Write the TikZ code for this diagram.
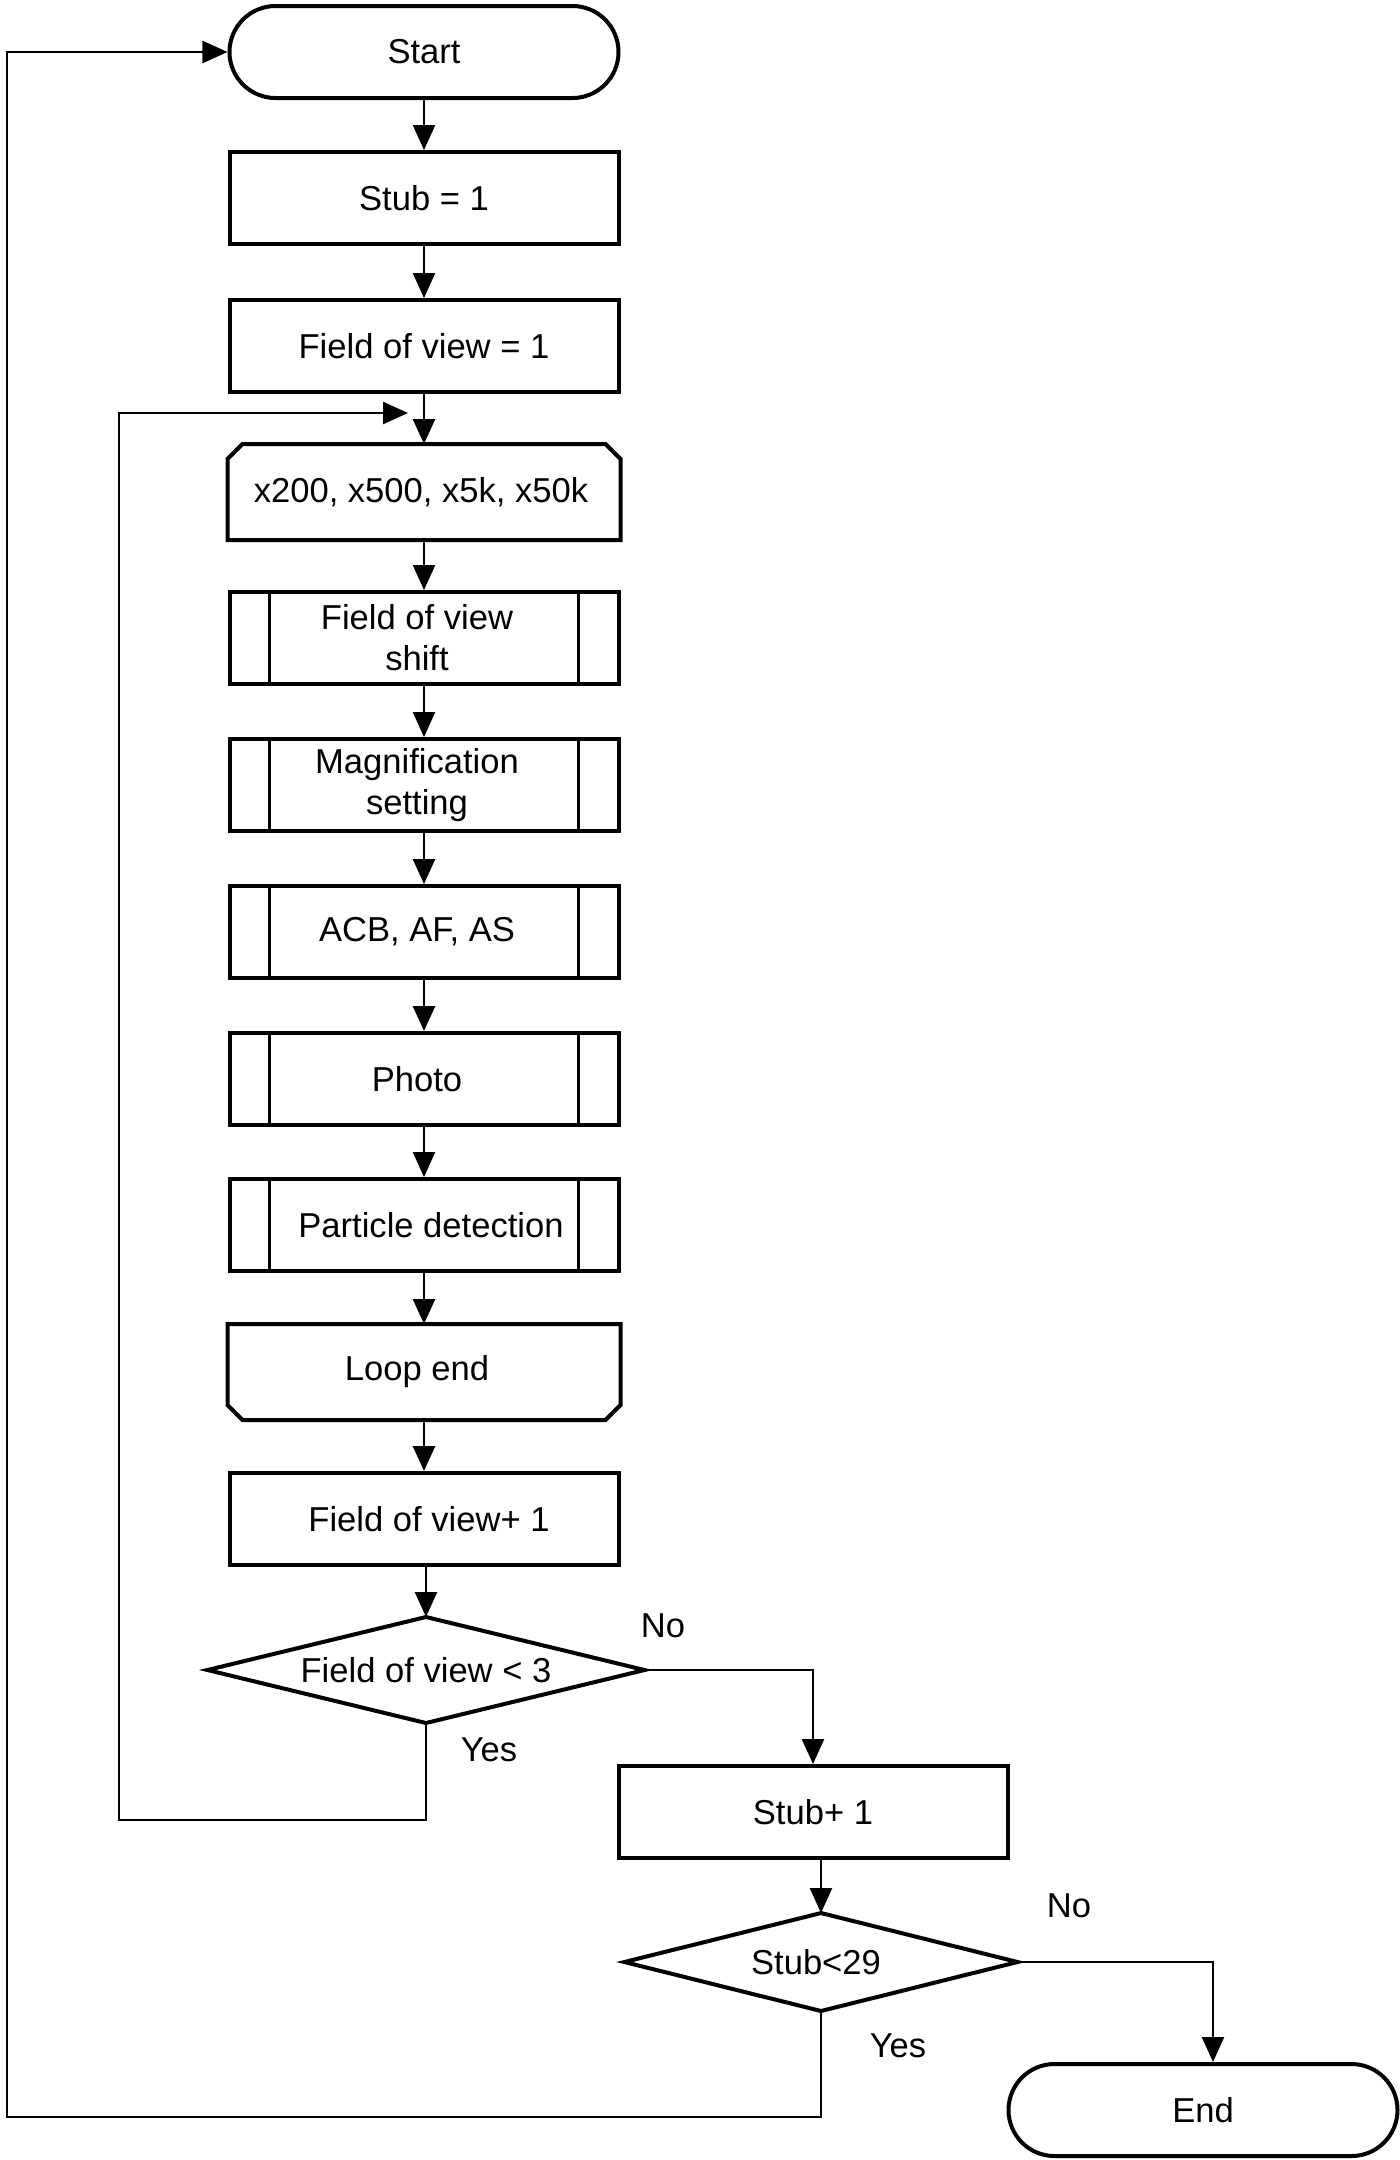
\documentclass[tikz,border=0pt]{standalone}
\usepackage{fontspec}
\setmainfont{Liberation Sans}
\usetikzlibrary{arrows.meta}
\begin{document}
\begin{tikzpicture}[x=1bp,y=-1bp,
  txt/.style={font=\fontsize{34.7}{41}\selectfont},
  box/.style={txt,draw,line width=4bp,minimum width=389bp,minimum height=92bp,inner sep=0pt,align=center},
  term/.style={box,rounded corners=46bp},
  bare/.style={box,draw=none},
  outl/.style={line width=4bp,line join=miter},
  conn/.style={line width=2.5bp,-{Triangle[length=25bp,width=22bp]}},
  lbl/.style={txt,inner sep=0pt}]
\useasboundingbox (0,0) rectangle (1400,2160);
\def\ch{15bp}
% nodes
\node[term] (start) at (424,52) {Start};
\node[box] (stub1) at (424,198) {Stub = 1};
\node[box] (fov1) at (424,346) {Field of view = 1};
\node[bare] (lstart) at (424,492) {x200, x500, x5k, x50k\hspace*{6bp}};
\draw[outl] ([yshift=-\ch]lstart.north west) -- ([xshift=\ch]lstart.north west) -- ([xshift=-\ch]lstart.north east) -- ([yshift=-\ch]lstart.north east) -- (lstart.south east) -- (lstart.south west) -- cycle;
\node[box] (shift) at (424,638) {Field of view\hspace*{14bp}\\shift\hspace*{14bp}};
\node[box] (mag) at (424,785) {Magnification\hspace*{14bp}\\setting\hspace*{14bp}};
\node[box] (acb) at (424,932) {ACB, AF, AS\hspace*{14bp}};
\node[box] (photo) at (424,1079) {Photo\hspace*{14bp}};
\node[box] (part) at (424,1225) {\hspace*{14bp}Particle detection};
\foreach \n in {shift,mag,acb,photo,part}{
  \draw[line width=2.5bp] ([xshift=42bp]\n.north west) -- ([xshift=42bp]\n.south west);
  \draw[line width=2.5bp] ([xshift=-42bp]\n.north east) -- ([xshift=-42bp]\n.south east);
}
\node[bare] (lend) at (424,1372) {Loop end\hspace*{14bp}};
\draw[outl] (lend.north west) -- (lend.north east) -- ([yshift=\ch]lend.south east) -- ([xshift=-\ch]lend.south east) -- ([xshift=\ch]lend.south west) -- ([yshift=\ch]lend.south west) -- cycle;
\node[box] (fovp) at (424,1519) {\hspace*{10bp}Field of view+ 1};
\node[bare,minimum width=433bp,minimum height=102bp] (d1) at (426,1670) {Field of view < 3};
\draw[outl] (d1.north) -- (d1.east) -- (d1.south) -- (d1.west) -- cycle;
\node[box] (stubp) at (813,1812) {Stub+ 1};
\node[bare,minimum width=389bp,minimum height=94bp] (d2) at (821,1962) {Stub<29\hspace*{10bp}};
\draw[outl] (d2.north) -- (d2.east) -- (d2.south) -- (d2.west) -- cycle;
\node[term] (end) at (1203,2110) {End};
% labels
\node[lbl] (no1) at (663,1626) {No};
\node[lbl] (yes1) at (489,1750) {Yes};
\node[lbl] (no2) at (1069,1906) {No};
\node[lbl] (yes2) at (898,2046) {Yes};
% connectors
\draw[conn] (start) -- (stub1);
\draw[conn] (stub1) -- (fov1);
\draw[conn] (fov1) -- (lstart);
\draw[conn] (lstart) -- (shift);
\draw[conn] (shift) -- (mag);
\draw[conn] (mag) -- (acb);
\draw[conn] (acb) -- (photo);
\draw[conn] (photo) -- (part);
\draw[conn] (part) -- (lend);
\draw[conn] (lend) -- (fovp);
\draw[conn] (fovp.south -| d1.north) -- (d1.north);
\draw[conn] (d1.east) -| (stubp.north);
\draw[conn] (stubp.south -| d2.north) -- (d2.north);
\coordinate (endin) at ([xshift=10bp]end.north);
\draw[conn] (d2.east) -| (endin);
\coordinate (in1) at (119,1820);
\coordinate (merge) at (408,413);
\draw[conn] (d1.south) |- (in1) |- (merge);
\coordinate (out1) at (7,2117);
\draw[conn] (d2.south) |- (out1) |- (start.west);
\end{tikzpicture}
\end{document}
